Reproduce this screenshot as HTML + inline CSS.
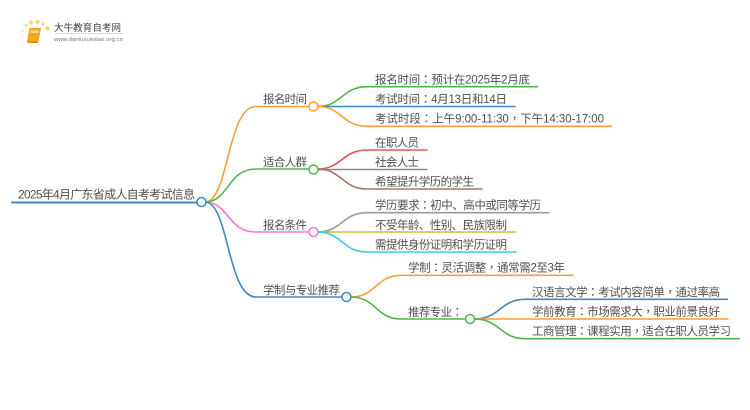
<!DOCTYPE html>
<html lang="zh"><head><meta charset="utf-8"><title>2025年4月广东省成人自考考试信息</title>
<style>
html,body{margin:0;padding:0;background:#fff}
svg{display:block;filter:blur(0.3px)}
text{font-family:"Liberation Sans","Noto Sans CJK SC",sans-serif;font-size:11.500px;fill:#505050}
tspan{font-family:"Noto Sans CJK TC",sans-serif}
path{fill:none;stroke-width:1.600;stroke-linecap:round}
circle{fill:#fff;stroke-width:1.500}
</style></head><body>
<svg width="750" height="410" viewBox="0 0 750 410" xmlns="http://www.w3.org/2000/svg">
<!-- logo -->
<g>
<circle cx="47.500" cy="28.500" r="2.200" style="fill:#fbcf6e;stroke:none"/>
<circle cx="43" cy="24" r="1.800" style="fill:#fbd98c;stroke:none"/>
<circle cx="37.500" cy="22" r="2" style="fill:#fbd27a;stroke:none"/>
<circle cx="31" cy="22.500" r="2" style="fill:#fbd27a;stroke:none"/>
<circle cx="26" cy="25.500" r="1.600" style="fill:#fcdf9e;stroke:none"/>
<circle cx="22.500" cy="30.500" r="1.300" style="fill:#fde6b5;stroke:none"/>
<circle cx="22" cy="36.500" r="1.100" style="fill:#fdebc5;stroke:none"/>
<circle cx="23.500" cy="42" r="1" style="fill:#feefd2;stroke:none"/>
<polygon points="29.500,28 41,28 38.500,41 27,41" fill="#f6a623"/>
<polygon points="27,41 38.500,41 38,43 27.500,43" fill="#e9871a"/>
<polygon points="31,30.500 39,30.500 38.500,33 30.500,33" fill="#fcd98a"/>
<text x="54" y="31" textLength="67" lengthAdjust="spacing" style="font-size:9.500px;fill:#444">大牛教育自考网</text>
<rect x="54" y="33" width="68" height="0.700" fill="#ccc"/>
<text x="54" y="41" textLength="69" lengthAdjust="spacingAndGlyphs" style="font-size:5.800px;fill:#777">www.daniuxuexiao.org.cn</text>
</g>

<!-- root -->
<path d="M12 202.500H197" stroke="#3f88c5" style="stroke-width:2"/>
<!-- level 1 connectors -->
<path d="M205 202C229 202 227 106.500 256 106.500H309" stroke="#ff9c3c"/>
<path d="M205 202C229 202 227 169 256 169H309" stroke="#4cb848"/>
<path d="M205 202C229 202 227 232 256 232H309" stroke="#f07ad0"/>
<path d="M205 202C229 202 227 297 256 297H342" stroke="#3f88c5"/>

<!-- leaf group 1 -->
<path d="M317.500 106.500C342 106.500 342 86.700 367 86.700H537.500" stroke="#4cb848"/>
<path d="M317.500 106.500H515" stroke="#3f88c5"/>
<path d="M317.500 106.500C342 106.500 342 126.300 367 126.300H611.500" stroke="#ff9c3c"/>
<!-- leaf group 2 -->
<path d="M317.500 169C342 169 342 150 367 150H427" stroke="#e8525c"/>
<path d="M317.500 169.500H427" stroke="#8c8c8c"/>
<path d="M317.500 169C342 169 342 189 367 189H482" stroke="#a5756a"/>
<!-- leaf group 3 -->
<path d="M317.500 232C342 232 342 212.700 367 212.700H549" stroke="#999"/>
<path d="M317.500 232H516" stroke="#c8c42c"/>
<path d="M317.500 232C342 232 342 252 367 252H516" stroke="#35d0e0"/>
<!-- branch 4 children -->
<path d="M351 297C376 297 376 275.300 401 275.300H573" stroke="#ff9c3c"/>
<path d="M351 297C376 297 376 319 401 319H466" stroke="#4cb848"/>
<!-- sub leaves -->
<path d="M474.500 319C500 319 500 299.300 525 299.300H727.500" stroke="#3f88c5"/>
<path d="M474.500 319H728" stroke="#ff9c3c"/>
<path d="M474.500 319C500 319 500 338.700 525 338.700H739" stroke="#4cb848"/>

<!-- nodes -->
<circle cx="201.500" cy="202" r="4.500" stroke="#3f88c5"/>
<circle cx="313.500" cy="106.500" r="4.500" stroke="#ff9c3c"/>
<circle cx="313.500" cy="169.500" r="4.500" stroke="#4cb848"/>
<circle cx="313.500" cy="232" r="4.500" stroke="#f07ad0"/>
<circle cx="346.500" cy="297" r="4.500" stroke="#3f88c5"/>
<circle cx="470" cy="319" r="4.500" stroke="#4cb848"/>

<!-- labels -->
<text x="18" y="198.500" textLength="177" lengthAdjust="spacing" style="font-size:12px">2025年4月广东省成人自考考试信息</text>
<text x="263" y="103" textLength="44" lengthAdjust="spacing">报名时间</text>
<text x="263" y="166" textLength="44" lengthAdjust="spacing">适合人群</text>
<text x="263" y="229" textLength="44" lengthAdjust="spacing">报名条件</text>
<text x="263" y="294" textLength="77" lengthAdjust="spacing">学制与专业推荐</text>

<text x="375" y="83.500" textLength="155" lengthAdjust="spacing">报名时间<tspan lang="zh-TW">：</tspan>预计在2025年2月底</text>
<text x="375" y="103" textLength="132" lengthAdjust="spacing">考试时间<tspan lang="zh-TW">：</tspan>4月13日和14日</text>
<text x="375" y="122.500" textLength="229" lengthAdjust="spacing">考试时段<tspan lang="zh-TW">：</tspan>上午9:00-11:30<tspan lang="zh-TW">，</tspan>下午14:30-17:00</text>
<text x="375" y="146.500" textLength="44" lengthAdjust="spacing">在职人员</text>
<text x="375" y="166" textLength="44" lengthAdjust="spacing">社会人士</text>
<text x="375" y="185.500" textLength="99" lengthAdjust="spacing">希望提升学历的学生</text>
<text x="375" y="209" textLength="166" lengthAdjust="spacing">学历要求<tspan lang="zh-TW">：</tspan>初中、高中或同等学历</text>
<text x="375" y="229" textLength="132" lengthAdjust="spacing">不受年龄、性别、民族限制</text>
<text x="375" y="248.500" textLength="132" lengthAdjust="spacing">需提供身份证明和学历证明</text>
<text x="408" y="271.500" textLength="157" lengthAdjust="spacing">学制<tspan lang="zh-TW">：</tspan>灵活调整<tspan lang="zh-TW">，</tspan>通常需2至3年</text>
<text x="408" y="316" textLength="55" lengthAdjust="spacing">推荐专业<tspan lang="zh-TW">：</tspan></text>
<text x="532" y="296" textLength="188" lengthAdjust="spacing">汉语言文学<tspan lang="zh-TW">：</tspan>考试内容简单<tspan lang="zh-TW">，</tspan>通过率高</text>
<text x="532" y="315.500" textLength="188" lengthAdjust="spacing">学前教育<tspan lang="zh-TW">：</tspan>市场需求大<tspan lang="zh-TW">，</tspan>职业前景良好</text>
<text x="532" y="335" textLength="199" lengthAdjust="spacing">工商管理<tspan lang="zh-TW">：</tspan>课程实用<tspan lang="zh-TW">，</tspan>适合在职人员学习</text>
</svg>
</body></html>
